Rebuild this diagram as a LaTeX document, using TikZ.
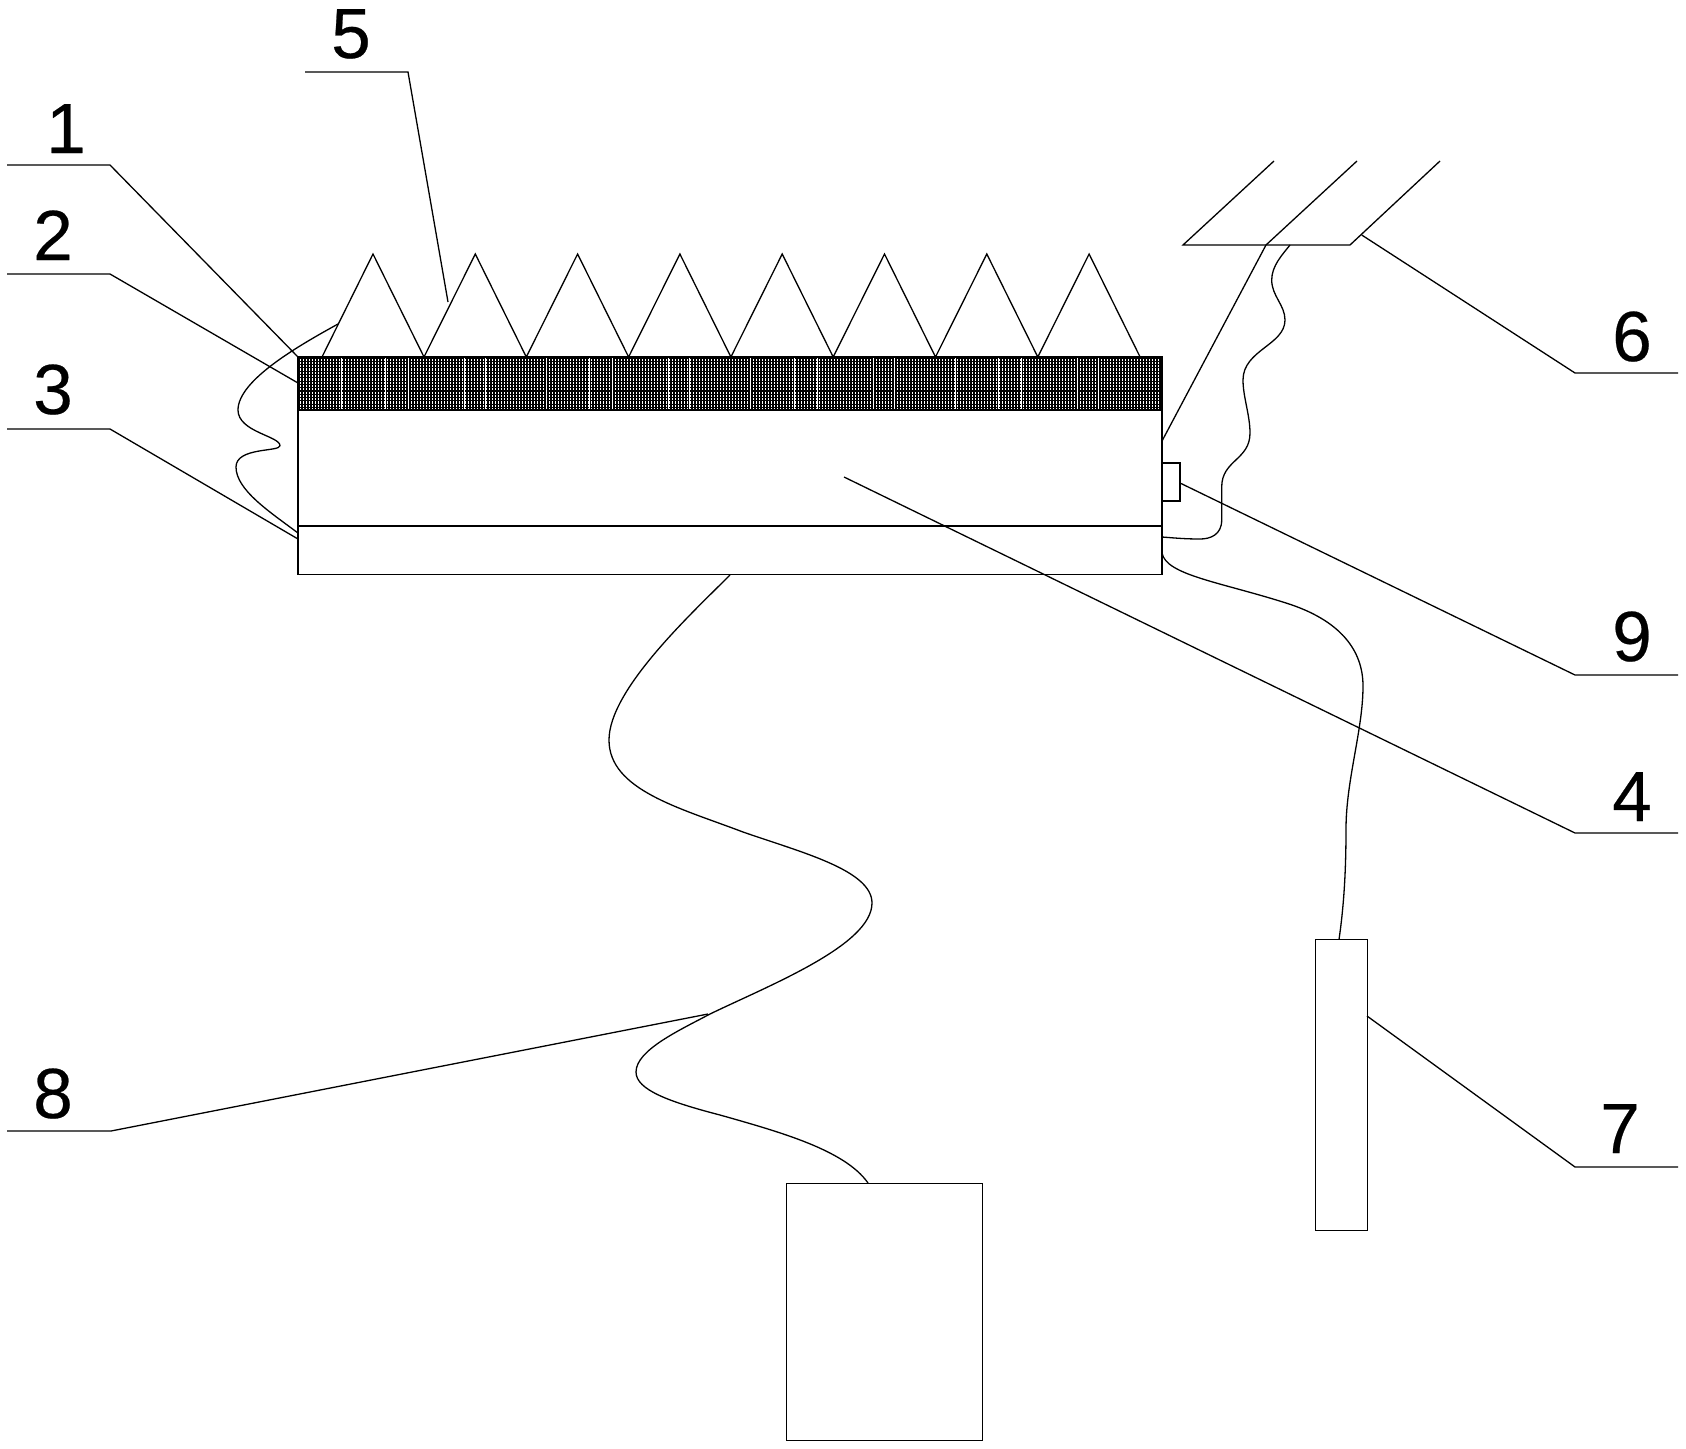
\documentclass[tikz,border=0pt]{standalone}
\usepackage{fontspec}
\setmainfont{Liberation Sans}
\newfontfamily\numfont[FakeBold=0.35]{Liberation Sans}
\tikzset{
  ln/.style={draw=black,line width=1.3pt,line join=miter},
  num/.style={anchor=base,inner sep=0pt,outer sep=0pt,font=\numfont\fontsize{71}{71}\selectfont,text=black},
  hatchline/.style={draw=black,line width=1.05pt}
}
\begin{document}
\begin{tikzpicture}[x=1pt,y=-1pt]
\useasboundingbox[fill=white] (0,0) rectangle (1686,1448);
% named anchor points
\coordinate (tl) at (298,357);
\coordinate (tr) at (1162,357);
\coordinate (bl) at (298,574.5);
\coordinate (br) at (1162,574.5);
% hatching of layer 2
\foreach \yy in {358,361.3,...,410}{\draw[hatchline] (298,\yy) -- (1162,\yy);}
\foreach \xx in {299,302,...,1160}{\draw[hatchline] (\xx,357) -- (\xx,410);}
\foreach \pp in {0,204.6,...,800}{
  \foreach \oo in {43.5,87,110,166,187}{
    \draw[white,line width=0.8pt] ({298+\pp+\oo},358) -- ({298+\pp+\oo},410);
  }
}
% body
\draw[ln] (tl) rectangle (br);
\draw[ln] (298,410) -- (1162,410);
\draw[ln] (298,526) -- (1162,526);
% teeth
\draw[ln] (322,357)
  \foreach \k in {0,...,7}{ -- ({373+102.3*\k},254) -- ({424+102.3*\k},357) };
% small sensor box 9
\draw[ln] (1162,463) -- (1180,463) -- (1180,501) -- (1162,501);
% solar panel 6
\draw[ln] (1274,161) -- (1183,245) -- (1350,245) -- (1440,161);
\draw[ln] (1357,161) -- (1266,245) -- (1162,441);
% boxes 7 and lower box
\node[ln,rectangle,inner sep=0pt,minimum width=52pt,minimum height=291pt,anchor=north west] (box7) at (1315,939) {};
\node[ln,rectangle,inner sep=0pt,minimum width=196pt,minimum height=257pt,anchor=north west] (boxb) at (786,1183) {};
% wires
\draw[ln] (338,324) .. controls (300,345) and (238,380) .. (238,410)
  .. controls (238,432) and (280,436) .. (280,445.7)
  .. controls (280,452) and (236,447) .. (236,467)
  .. controls (236,490) and (270,512) .. (298,533);
\draw[ln] (1290,245) .. controls (1282,255) and (1271.7,266) .. (1271.7,280)
  .. controls (1271.7,296) and (1285,305) .. (1285,320)
  .. controls (1285,345) and (1243,350) .. (1243,380)
  .. controls (1243,397) and (1250,415) .. (1250,433)
  .. controls (1250,460) and (1221.7,460) .. (1221.7,487)
  -- (1221.7,520)
  .. controls (1221.7,535) and (1210,539) .. (1200,539)
  .. controls (1185,539) and (1175,538) .. (1162,537);
\draw[ln] (730,575) .. controls (690,615) and (609,690) .. (609,740)
  .. controls (609,790) and (680,808) .. (743,832)
  .. controls (800,852) and (872,870) .. (872,903)
  .. controls (872,945) and (770,985) .. (710,1014)
  .. controls (680,1030) and (636,1050) .. (636,1072)
  .. controls (636,1090) and (670,1102) .. (720,1115)
  .. controls (780,1132) and (845,1150) .. (868,1183);
\draw[ln] (1162,553) .. controls (1166,575) and (1220,582) .. (1286,603)
  .. controls (1340,620) and (1363,650) .. (1363,686)
  .. controls (1363,730) and (1346,780) .. (1346,829)
  .. controls (1346,870) and (1344,905) .. (1339,939.5);
% labels
\node[num] (n1) at (66,153) {1};
\node[num] (n2) at (53,260) {2};
\node[num] (n3) at (53,414) {3};
\node[num] (n5) at (351,58) {5};
\node[num] (n6) at (1632,361) {6};
\node[num] (n9) at (1632,661) {9};
\node[num] (n4) at (1632,821) {4};
\node[num] (n7) at (1620,1153) {7};
\node[num] (n8) at (53,1118) {8};
% leader lines
\draw[ln] (7,165) -- (110,165) -- (tl);
\draw[ln] (7,274) -- (110,274) -- (298,383);
\draw[ln] (7,429) -- (110,429) -- (298,539);
\draw[ln] (305,72) -- (408,72) -- (448,302);
\draw[ln] (1678,373) -- (1575,373) -- (1361.7,235);
\draw[ln] (1678,675) -- (1575,675) -- (1180,483);
\draw[ln] (1678,833) -- (1575,833) -- (844,477);
\draw[ln] (1678,1167) -- (1575,1167) -- (1367,1016);
\draw[ln] (7,1131) -- (111,1131) -- (708,1014);
\end{tikzpicture}
\end{document}
